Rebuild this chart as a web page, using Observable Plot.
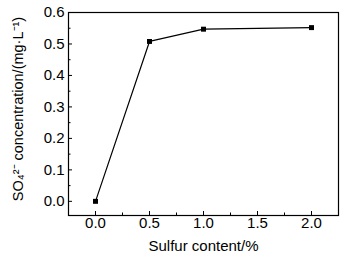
<!DOCTYPE html>
<html><head><meta charset="utf-8">
<script src="https://cdn.jsdelivr.net/npm/d3@7"></script>
<script src="https://cdn.jsdelivr.net/npm/@observablehq/plot@0.6"></script>
<style>body{margin:0;background:#fff}</style>
</head><body><div id="chart"></div>
<script>
const sulfur = [0.0, 0.5, 1.0, 2.0];
const concentration = [0.0, 0.508, 0.547, 0.552];
const xTicks = [0.0, 0.5, 1.0, 1.5, 2.0];
const yTicks = [0.0, 0.1, 0.2, 0.3, 0.4, 0.5, 0.6];
const xMinor = [-0.25, 0.25, 0.75, 1.25, 1.75, 2.25];
const yMinor = [0.05, 0.15, 0.25, 0.35, 0.45, 0.55];
const data = sulfur.map((s, i) => ({s, c: concentration[i]}));
const font = "Liberation Sans, Arial, sans-serif";
const W = 348, H = 256, ML = 68, MR = 10, MT = 12, MB = 41;
const fw = W - ML - MR, fh = H - MT - MB;
const chart = Plot.plot({
  width: W, height: H,
  marginLeft: ML, marginRight: MR, marginTop: MT, marginBottom: MB,
  style: {fontFamily: font, fontSize: "15px", color: "#000", background: "#fff"},
  x: {domain: [-0.25, 2.25]},
  y: {domain: [-0.045, 0.6]},
  marks: [
    Plot.frame({stroke: "#000", strokeWidth: 1.2}),
    Plot.axisX({ticks: xTicks, tickFormat: d => d.toFixed(1), tickSize: 0, tickPadding: 2, fontSize: 15, label: null}),
    Plot.axisY({ticks: yTicks, tickFormat: d => d.toFixed(1), tickSize: 0, tickPadding: 4, fontSize: 15, label: null}),
    Plot.tickX(xTicks, {x: d => d, insetTop: fh - 4, stroke: "#000", strokeWidth: 1}),
    Plot.tickX(xMinor, {x: d => d, insetTop: fh - 2.5, stroke: "#000", strokeWidth: 1}),
    Plot.tickY(yTicks, {y: d => d, insetRight: fw - 4, stroke: "#000", strokeWidth: 1}),
    Plot.tickY(yMinor, {y: d => d, insetRight: fw - 2.5, stroke: "#000", strokeWidth: 1}),
    Plot.text(["Sulfur content/%"], {frameAnchor: "bottom", dy: 31, fontSize: 15, lineAnchor: "middle"}),
    Plot.text(["SO₄²⁻ concentration/(mg·L⁻¹)"], {frameAnchor: "left", dx: -50, dy: -5, rotate: -90, textAnchor: "middle", fontSize: 14.5}),
    Plot.line(data, {x: "s", y: "c", stroke: "#000", strokeWidth: 1.2}),
    Plot.dot(data, {x: "s", y: "c", symbol: "square", r: 2.8, fill: "#000", stroke: "none"})
  ]
});
document.getElementById("chart").append(chart);
</script></body></html>
